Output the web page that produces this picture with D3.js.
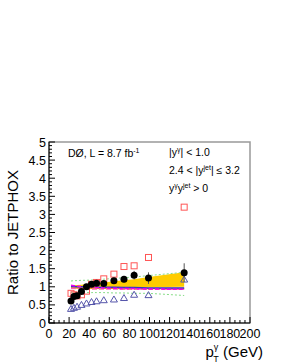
<!DOCTYPE html>
<html>
<head>
<meta charset="utf-8">
<script src="https://cdn.jsdelivr.net/npm/d3@7"></script>
<style>
  body { margin: 0; background: #fff; }
  svg { font-family: "Liberation Sans", Arial, sans-serif; }
</style>
</head>
<body>
<div id="chart-area"></div>
<script>
const pt = [21.9, 24.8, 27.9, 32.3, 37.3, 42.3, 47.3, 54.5, 64.6, 74.6, 84.7, 99.0, 134.5];
const dataRatio = [0.61, 0.73, 0.75, 0.87, 1.0, 1.07, 1.10, 1.09, 1.17, 1.21, 1.32, 1.24, 1.39];
const dataErr = [0.04, 0.04, 0.05, 0.05, 0.05, 0.05, 0.06, 0.06, 0.08, 0.09, 0.12, 0.16, 0.26];
const sherpaRatio = [0.82, 0.78, 0.75, 0.78, 0.88, 1.07, 1.12, 1.22, 1.35, 1.56, 1.58, 1.81, 3.2];
const pythiaRatio = [0.39, 0.42, 0.45, 0.50, 0.54, 0.58, 0.60, 0.63, 0.65, 0.69, 0.78, 0.77, 1.2];
const scaleLow = [0.96, 0.96, 0.97, 0.97, 0.97, 0.98, 0.98, 0.98, 0.98, 0.99, 0.99, 0.99, 1.0];
const scaleHigh = [1.03, 1.04, 1.05, 1.06, 1.08, 1.09, 1.10, 1.12, 1.15, 1.18, 1.21, 1.27, 1.40];
const pdfHigh = [1.16, 1.17, 1.17, 1.18, 1.18, 1.19, 1.19, 1.21, 1.23, 1.25, 1.27, 1.31, 1.40];
const pdfLow = [0.85, 0.85, 0.85, 0.85, 0.84, 0.84, 0.84, 0.84, 0.83, 0.83, 0.82, 0.82, 0.76];
const blueLine = [1.01, 1.01, 1.0, 1.0, 1.0, 1.0, 0.99, 0.99, 0.99, 0.98, 0.98, 0.97, 0.97];
const magentaLine = [1.04, 1.03, 1.02, 1.01, 1.0, 0.99, 0.98, 0.97, 0.96, 0.95, 0.95, 0.94, 0.93];
const orangeLine = [0.98, 0.98, 0.97, 0.97, 0.97, 0.96, 0.96, 0.96, 0.96, 0.95, 0.95, 0.95, 0.95];
const xTicks = [0, 20, 40, 60, 80, 100, 120, 140, 160, 180, 200];
const yTicks = [0, 0.5, 1, 1.5, 2, 2.5, 3, 3.5, 4, 4.5, 5];

const margin = { top: 142, right: 31, bottom: 40, left: 49 };
const W = 281, H = 363;
const width = W - margin.left - margin.right;
const height = H - margin.top - margin.bottom;

const svg = d3.select("#chart-area")
  .append("svg")
    .attr("width", W)
    .attr("height", H)
  .append("g")
    .attr("transform", `translate(${margin.left},${margin.top})`);

const x = d3.scaleLinear().domain([0, 200]).range([0, width]);
const y = d3.scaleLinear().domain([0, 5]).range([height, 0]);

// frame
svg.append("rect")
  .attr("width", width).attr("height", height)
  .attr("fill", "none").attr("stroke", "#999").attr("stroke-width", 1.5);

const idx = d3.range(pt.length);

// yellow scale band
svg.append("path")
  .datum(idx)
  .attr("fill", "#ffcc00")
  .attr("d", d3.area().x(i => x(pt[i])).y0(i => y(scaleLow[i])).y1(i => y(scaleHigh[i])));

// pdf dotted lines
[pdfHigh, pdfLow].forEach(arr => {
  svg.append("path")
    .datum(idx)
    .attr("fill", "none").attr("stroke", "#8d8").attr("stroke-width", 1)
    .attr("stroke-dasharray", "2,2")
    .attr("d", d3.line().x(i => x(pt[i])).y(i => y(arr[i])));
});

const line = arr => d3.line().x(i => x(pt[i])).y(i => y(arr[i]));
svg.append("path").datum(idx).attr("fill", "none").attr("stroke", "#f0a000").attr("stroke-width", 1.5).attr("d", line(orangeLine));
svg.append("path").datum(idx).attr("fill", "none").attr("stroke", "#f6a").attr("stroke-width", 1.5).attr("stroke-dasharray", "5,2").attr("d", line(orangeLine.map(v => v - 0.02)));
svg.append("path").datum(idx).attr("fill", "none").attr("stroke", "#33c").attr("stroke-width", 1.5).attr("d", line(blueLine));
svg.append("path").datum(idx).attr("fill", "none").attr("stroke", "#e0e").attr("stroke-width", 1.5).attr("stroke-dasharray", "4,2").attr("d", line(magentaLine));

// pythia triangles
svg.selectAll(".tri").data(idx).enter().append("path")
  .attr("class", "tri")
  .attr("transform", i => `translate(${x(pt[i])},${y(pythiaRatio[i])})`)
  .attr("d", "M0,-3.5L3.5,2.5L-3.5,2.5Z")
  .attr("fill", "none").attr("stroke", "#55a").attr("stroke-width", 1);

// sherpa squares
svg.selectAll(".sq").data(idx).enter().append("rect")
  .attr("class", "sq")
  .attr("x", i => x(pt[i]) - 3).attr("y", i => y(sherpaRatio[i]) - 3)
  .attr("width", 6).attr("height", 6)
  .attr("fill", "none").attr("stroke", "#f55").attr("stroke-width", 1);

// data
svg.selectAll(".err").data(idx).enter().append("line")
  .attr("class", "err")
  .attr("x1", i => x(pt[i])).attr("x2", i => x(pt[i]))
  .attr("y1", i => y(dataRatio[i] - dataErr[i])).attr("y2", i => y(dataRatio[i] + dataErr[i]))
  .attr("stroke", "#555").attr("stroke-width", 1);
svg.selectAll(".pt").data(idx).enter().append("circle")
  .attr("class", "pt")
  .attr("cx", i => x(pt[i])).attr("cy", i => y(dataRatio[i]))
  .attr("r", 3.5).attr("fill", "#000");

// axes, ROOT style (ticks inward)
const xAxis = svg.append("g").attr("transform", `translate(0,${height})`);
xAxis.append("line").attr("x2", width).attr("stroke", "#000");
xAxis.selectAll(".minor").data(d3.range(0, 201, 5)).enter().append("line")
  .attr("x1", d => x(d)).attr("x2", d => x(d))
  .attr("y2", d => d % 20 === 0 ? -6 : -3).attr("stroke", "#000");
xAxis.selectAll("text").data(xTicks).enter().append("text")
  .attr("x", d => x(d)).attr("y", 15)
  .attr("text-anchor", "middle").style("font-size", "12.5px")
  .text(d => d);

const yAxis = svg.append("g");
yAxis.append("line").attr("y2", height).attr("stroke", "#000");
yAxis.selectAll(".minor").data(d3.range(0, 51).map(d => d / 10)).enter().append("line")
  .attr("y1", d => y(d)).attr("y2", d => y(d))
  .attr("x2", (d, i) => i % 5 === 0 ? 6 : 3).attr("stroke", "#000");
yAxis.selectAll("text").data(yTicks).enter().append("text")
  .attr("x", -3).attr("y", d => y(d) + 4.5)
  .attr("text-anchor", "end").style("font-size", "12.5px")
  .text(d => d);

svg.append("text")
  .attr("transform", "rotate(-90)")
  .attr("x", -height / 2).attr("y", -31)
  .attr("text-anchor", "middle").style("font-size", "15px")
  .text("Ratio to JETPHOX");

const xt = svg.append("text")
  .attr("x", width + 13).attr("y", height + 34)
  .attr("text-anchor", "end").style("font-size", "15px");
xt.append("tspan").text("p");
xt.append("tspan").attr("dy", -7).attr("dx", 0).style("font-size", "9px").text("γ");
xt.append("tspan").attr("dy", 12).attr("dx", -5).style("font-size", "9px").text("T");
xt.append("tspan").attr("dy", -5).text(" (GeV)");

// labels
const lum = svg.append("text").attr("x", 19).attr("y", 15).style("font-size", "10.5px");
lum.append("tspan").text("DØ, L = 8.7 fb");
lum.append("tspan").attr("dy", -4).style("font-size", "7px").text("-1");

const t1 = svg.append("text").attr("x", 120).attr("y", 14).style("font-size", "10.5px");
t1.append("tspan").text("|y");
t1.append("tspan").attr("dy", -4).style("font-size", "7px").text("γ");
t1.append("tspan").attr("dy", 4).text("| < 1.0");

const t2 = svg.append("text").attr("x", 120).attr("y", 32).style("font-size", "10.5px");
t2.append("tspan").text("2.4 < |y");
t2.append("tspan").attr("dy", -4).style("font-size", "7px").text("jet");
t2.append("tspan").attr("dy", 4).text("| ≤ 3.2");

const t3 = svg.append("text").attr("x", 120).attr("y", 50).style("font-size", "10.5px");
t3.append("tspan").text("y");
t3.append("tspan").attr("dy", -4).style("font-size", "7px").text("γ");
t3.append("tspan").attr("dy", 4).text("y");
t3.append("tspan").attr("dy", -4).style("font-size", "7px").text("jet");
t3.append("tspan").attr("dy", 4).text(" > 0");
</script>
</body>
</html>
